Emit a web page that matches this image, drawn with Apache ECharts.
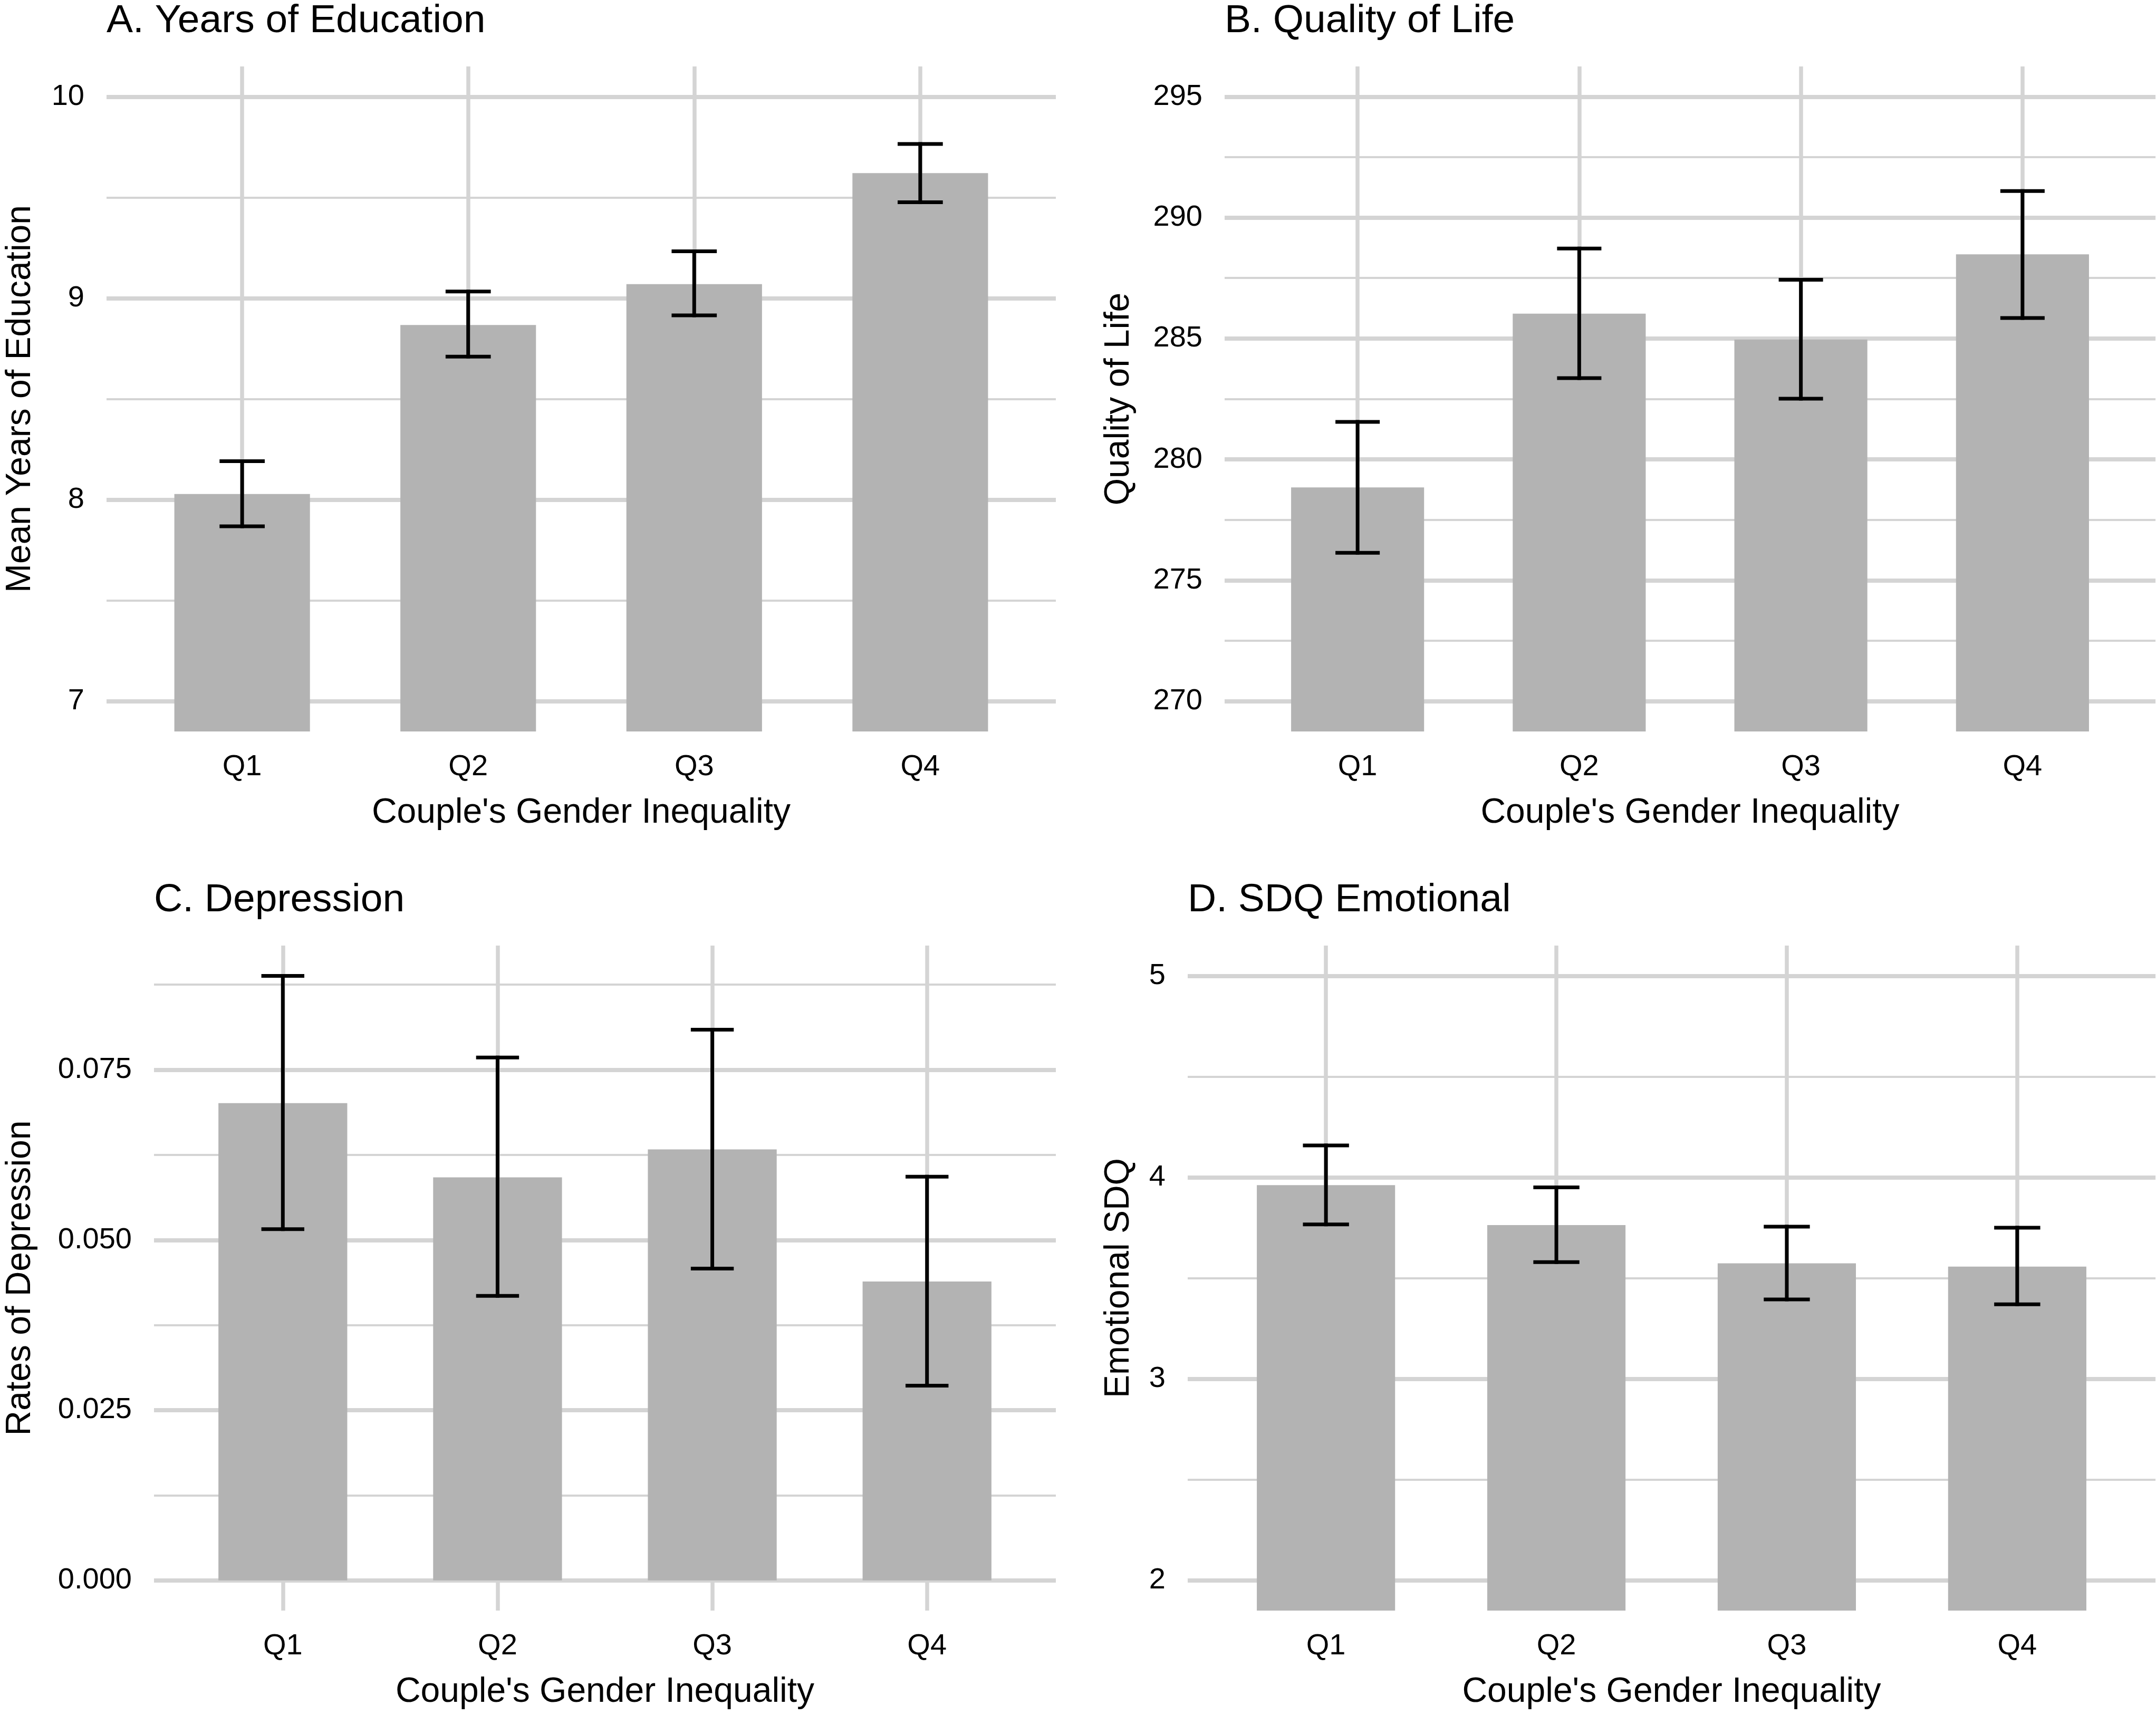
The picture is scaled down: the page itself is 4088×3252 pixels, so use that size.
<!DOCTYPE html>
<html>
<head>
<meta charset="utf-8">
<script src="https://cdn.jsdelivr.net/npm/echarts@6/dist/echarts.min.js"></script>
<style>
html,body{margin:0;padding:0;background:#ffffff;}
#chart{width:4088px;height:3252px;}
</style>
</head>
<body>
<div id="chart"></div>
<script>
// ---------------- data ----------------
const categories = ['Q1', 'Q2', 'Q3', 'Q4'];
const categoryPositions = [1, 2, 3, 4];
const panelTitles = ['A. Years of Education', 'B. Quality of Life', 'C. Depression', 'D. SDQ Emotional'];
const yAxisTitles = ['Mean Years of Education', 'Quality of Life', 'Rates of Depression', 'Emotional SDQ'];
const xAxisTitle = "Couple's Gender Inequality";

const eduMean = [8.028, 8.867, 9.070, 9.621];
const eduLow  = [7.868, 8.710, 8.915, 9.476];
const eduHigh = [8.191, 9.033, 9.233, 9.765];

const qolMean = [278.84, 286.03, 284.96, 288.48];
const qolLow  = [276.14, 283.36, 282.51, 285.85];
const qolHigh = [281.55, 288.72, 287.43, 291.10];

const depMean = [0.0701, 0.0592, 0.0633, 0.0439];
const depLow  = [0.0516, 0.0418, 0.0458, 0.0286];
const depHigh = [0.0888, 0.0768, 0.0809, 0.0593];

const sdqMean = [3.961, 3.763, 3.573, 3.557];
const sdqLow  = [3.766, 3.579, 3.394, 3.370];
const sdqHigh = [4.158, 3.950, 3.755, 3.750];

const eduTicks = [7, 8, 9, 10];
const eduMinorTicks = [7.5, 8.5, 9.5];
const qolTicks = [270, 275, 280, 285, 290, 295];
const qolMinorTicks = [272.5, 277.5, 282.5, 287.5, 292.5];
const depTicks = [0, 0.025, 0.05, 0.075];
const depMinorTicks = [0.0125, 0.0375, 0.0625, 0.0875];
const sdqTicks = [2, 3, 4, 5];
const sdqMinorTicks = [2.5, 3.5, 4.5];

const eduRange = [6.85, 10.15];
const qolRange = [268.75, 296.25];
const depRange = [-0.00444, 0.09325];
const sdqRange = [1.85, 5.15];

// ---------------- styling / layout ----------------
const FONT = "'Liberation Sans', Arial, Helvetica, sans-serif";
const GRID_COLOR = '#D4D4D4';
const BAR_COLOR = '#B3B3B3';
const BAR_HALF = 0.3;
const CAP_HALF = 0.1;

const panels = [
  { mean: eduMean, low: eduLow, high: eduHigh, ticks: eduTicks, minor: eduMinorTicks, range: eduRange, fmt: v => String(v),
    grid: { left: 202, top: 126, width: 1800, height: 1261 }, yGap: 130 },
  { mean: qolMean, low: qolLow, high: qolHigh, ticks: qolTicks, minor: qolMinorTicks, range: qolRange, fmt: v => String(v),
    grid: { left: 2322, top: 126, width: 1765, height: 1261 }, yGap: 167 },
  { mean: depMean, low: depLow, high: depHigh, ticks: depTicks, minor: depMinorTicks, range: depRange, fmt: v => v.toFixed(3),
    grid: { left: 292, top: 1793, width: 1710, height: 1261 }, yGap: 220 },
  { mean: sdqMean, low: sdqLow, high: sdqHigh, ticks: sdqTicks, minor: sdqMinorTicks, range: sdqRange, fmt: v => String(v),
    grid: { left: 2252, top: 1793, width: 1835, height: 1261 }, yGap: 97 }
];

function renderBar(params, api) {
  const x = api.value(0), y = api.value(1);
  const cs = params.coordSys;
  const bottom = cs.y + cs.height;
  const left = api.coord([x - BAR_HALF, y]);
  const right = api.coord([x + BAR_HALF, y]);
  const base = api.coord([x, 0])[1];
  const y0 = Math.max(cs.y, Math.min(left[1], bottom));
  const y1 = Math.min(bottom, base);
  return {
    type: 'rect',
    shape: { x: left[0], y: y0, width: right[0] - left[0], height: y1 - y0 },
    style: { fill: BAR_COLOR }
  };
}

function renderErr(params, api) {
  const x = api.value(0), lo = api.value(1), hi = api.value(2);
  const pLo = api.coord([x, lo]);
  const pHi = api.coord([x, hi]);
  const cl = api.coord([x - CAP_HALF, lo])[0];
  const cr = api.coord([x + CAP_HALF, lo])[0];
  const st = { stroke: '#000000', lineWidth: 7 };
  return {
    type: 'group',
    children: [
      { type: 'line', shape: { x1: pLo[0], y1: pLo[1] + 3.5, x2: pHi[0], y2: pHi[1] - 3.5 }, style: st },
      { type: 'line', shape: { x1: cl, y1: pLo[1], x2: cr, y2: pLo[1] }, style: st },
      { type: 'line', shape: { x1: cl, y1: pHi[1], x2: cr, y2: pHi[1] }, style: st }
    ]
  };
}

const option = {
  backgroundColor: '#ffffff',
  animation: false,
  textStyle: { fontFamily: FONT },
  title: [],
  grid: [],
  xAxis: [],
  yAxis: [],
  series: []
};

panels.forEach((p, i) => {
  const g = p.grid;
  option.grid.push({ left: g.left, top: g.top, width: g.width, height: g.height, outerBoundsMode: 'none', containLabel: false });
  option.title.push({
    text: panelTitles[i], left: g.left, top: g.top - 123, padding: 0,
    textStyle: { fontFamily: FONT, fontSize: 75, fontWeight: 'normal', color: '#000000' }
  });
  option.xAxis.push({
    gridIndex: i, type: 'value', min: 0.4, max: 4.6,
    axisLine: { show: false },
    axisTick: { show: false, customValues: categoryPositions },
    axisLabel: { customValues: categoryPositions, formatter: v => categories[Math.round(v) - 1],
      fontSize: 56, color: '#000000', margin: 40, fontFamily: FONT },
    splitLine: { show: true, lineStyle: { color: GRID_COLOR, width: 7.5 } },
    name: xAxisTitle, nameLocation: 'middle', nameGap: 122, nameMoveOverlap: false,
    nameTextStyle: { fontSize: 66, color: '#000000', fontFamily: FONT }
  });
  option.yAxis.push({
    gridIndex: i, type: 'value', min: p.range[0], max: p.range[1], position: 'left',
    axisLine: { show: false },
    axisTick: { show: false, customValues: p.ticks },
    axisLabel: { customValues: p.ticks, formatter: p.fmt, fontSize: 56, color: '#000000', margin: 42,
      padding: [9, 0, 0, 0], fontFamily: FONT },
    splitLine: { show: true, lineStyle: { color: GRID_COLOR, width: 8 } },
    name: yAxisTitles[i], nameLocation: 'middle', nameGap: p.yGap, nameRotate: 90, nameMoveOverlap: false,
    nameTextStyle: { fontSize: 66, color: '#000000', fontFamily: FONT }
  });
  option.yAxis.push({
    gridIndex: i, type: 'value', min: p.range[0], max: p.range[1], position: 'left',
    axisLine: { show: false },
    axisTick: { show: false, customValues: p.minor },
    axisLabel: { show: false, customValues: p.minor },
    splitLine: { show: true, lineStyle: { color: GRID_COLOR, width: 4 } }
  });
  option.series.push({
    type: 'custom', xAxisIndex: i, yAxisIndex: 2 * i, z: 2,
    renderItem: renderBar,
    encode: { x: 0, y: 1 },
    data: categoryPositions.map((x, k) => [x, p.mean[k]])
  });
  option.series.push({
    type: 'custom', xAxisIndex: i, yAxisIndex: 2 * i, z: 3,
    renderItem: renderErr,
    encode: { x: 0, y: [1, 2] },
    data: categoryPositions.map((x, k) => [x, p.low[k], p.high[k]])
  });
});

const chart = echarts.init(document.getElementById('chart'), null, { renderer: 'canvas', width: 4088, height: 3252 });
chart.setOption(option);
</script>
</body>
</html>
